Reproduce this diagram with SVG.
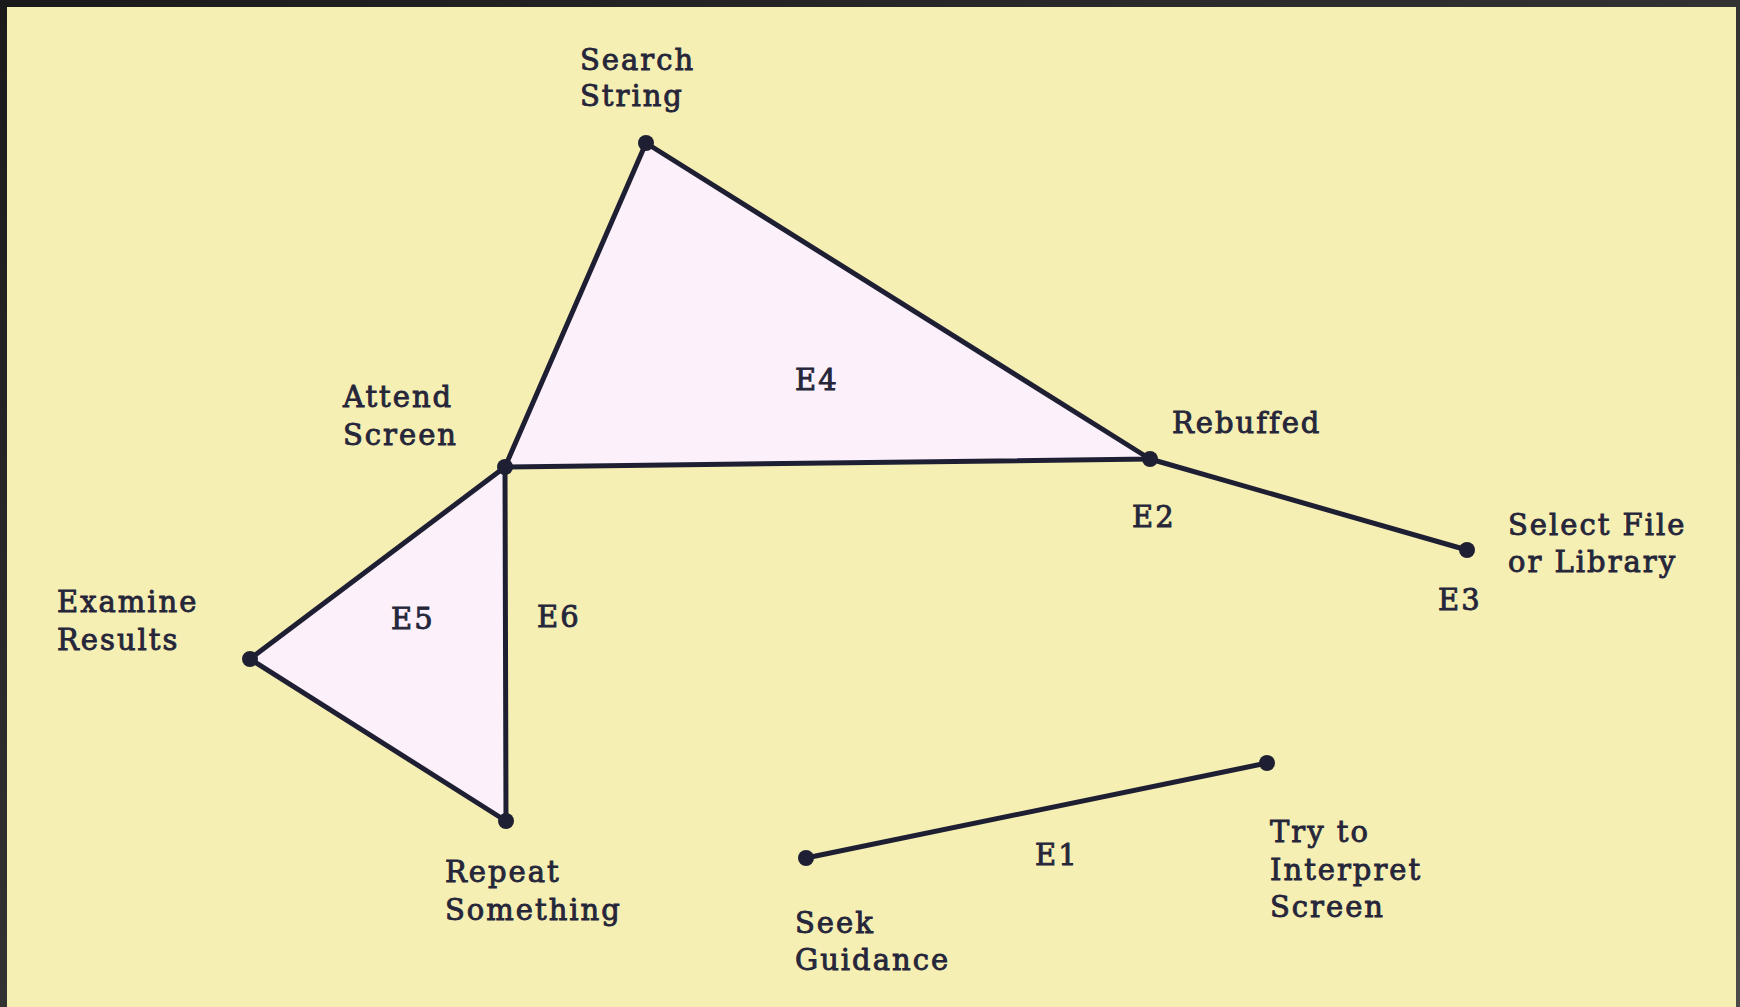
<svg xmlns="http://www.w3.org/2000/svg" width="1740" height="1007" viewBox="0 0 1740 1007">
<defs>
<linearGradient id="frame" x1="0" y1="0" x2="1" y2="1">
<stop offset="0" stop-color="#1a1a1a"/>
<stop offset="1" stop-color="#4a4a4a"/>
</linearGradient>
<style>
.lbl{font-family:"DejaVu Serif","Liberation Serif",serif;font-size:29px;letter-spacing:2px;fill:#26263a;stroke:#26263a;stroke-width:0.9}
.edge{stroke:#1f1f33;stroke-width:5;stroke-linecap:round;stroke-linejoin:round;fill:none}
.tri{fill:#fcf1fb;stroke:#1f1f33;stroke-width:5;stroke-linejoin:round}
.dot{fill:#1f1f33}
</style>
</defs>
<rect x="0" y="0" width="1740" height="1007" fill="url(#frame)"/>
<rect x="7" y="7" width="1729" height="1000" fill="#f6efb4"/>

<g id="connectors">
<polygon class="tri" points="646,143 505,467 1150,459"/>
<polygon class="tri" points="505,467 250,659 506,821"/>
<line class="edge" x1="1150" y1="459" x2="1467" y2="550"/>
<line class="edge" x1="806" y1="858" x2="1267" y2="763"/>
</g>

<g id="edge-labels">
<text class="lbl" x="795" y="390">E4</text>
<text class="lbl" x="1132" y="527">E2</text>
<text class="lbl" x="1438" y="610">E3</text>
<text class="lbl" x="391" y="629">E5</text>
<text class="lbl" x="537" y="627">E6</text>
<text class="lbl" x="1035" y="865">E1</text>
</g>

<g id="node-search-string">
<circle class="dot" cx="646" cy="143" r="8"/>
<text class="lbl" x="580" y="70">Search</text>
<text class="lbl" x="580" y="106">String</text>
</g>
<g id="node-attend-screen">
<circle class="dot" cx="505" cy="467" r="8"/>
<text class="lbl" x="343" y="407">Attend</text>
<text class="lbl" x="343" y="445">Screen</text>
</g>
<g id="node-rebuffed">
<circle class="dot" cx="1150" cy="459" r="8"/>
<text class="lbl" x="1172" y="433">Rebuffed</text>
</g>
<g id="node-select-file">
<circle class="dot" cx="1467" cy="550" r="8"/>
<text class="lbl" x="1508" y="535">Select File</text>
<text class="lbl" x="1508" y="572">or Library</text>
</g>
<g id="node-examine-results">
<circle class="dot" cx="250" cy="659" r="8"/>
<text class="lbl" x="57" y="612">Examine</text>
<text class="lbl" x="57" y="650">Results</text>
</g>
<g id="node-repeat-something">
<circle class="dot" cx="506" cy="821" r="8"/>
<text class="lbl" x="445" y="882">Repeat</text>
<text class="lbl" x="445" y="920">Something</text>
</g>
<g id="node-seek-guidance">
<circle class="dot" cx="806" cy="858" r="8"/>
<text class="lbl" x="795" y="933">Seek</text>
<text class="lbl" x="795" y="970">Guidance</text>
</g>
<g id="node-try-interpret">
<circle class="dot" cx="1267" cy="763" r="8"/>
<text class="lbl" x="1270" y="842">Try to</text>
<text class="lbl" x="1270" y="880">Interpret</text>
<text class="lbl" x="1270" y="917">Screen</text>
</g>
</svg>
